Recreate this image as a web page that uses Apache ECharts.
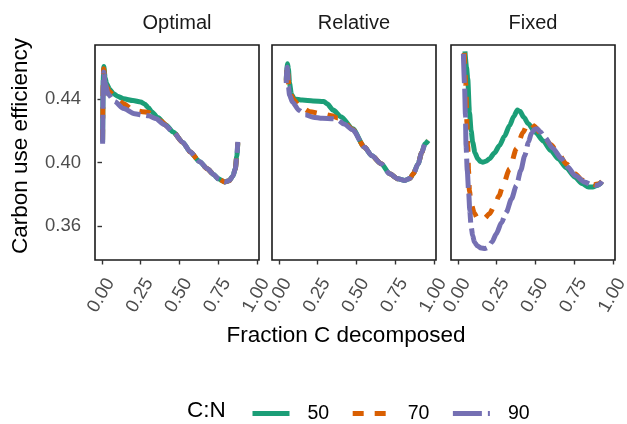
<!DOCTYPE html>
<html>
<head>
<meta charset="utf-8">
<script src="https://cdn.jsdelivr.net/npm/echarts@6/dist/echarts.min.js"></script>
<style>
html,body{margin:0;padding:0;background:#fff;}
#c{width:627px;height:424px;}
</style>
</head>
<body>
<div id="c"></div>
<script>
// ---- data ----
const panels = ["Optimal", "Relative", "Fixed"];
const cnLevels = ["50", "70", "90"];
const xTicks = [0, 0.25, 0.5, 0.75, 1.0];
const yTicks = [0.36, 0.40, 0.44];

const optimal50 = [[0.004,0.413],[0.008,0.452],[0.012,0.4605],[0.02,0.4535],[0.03,0.4496],[0.05,0.4460],[0.075,0.4433],[0.10,0.4418],[0.14,0.4401],[0.20,0.4390],[0.25,0.4381],[0.275,0.4368],[0.30,0.4345],[0.32,0.4320],[0.36,0.4283],[0.41,0.4238],[0.46,0.4192],[0.52,0.4128],[0.57,0.4066],[0.63,0.4005],[0.68,0.3960],[0.72,0.3925],[0.75,0.3898],[0.79,0.3878],[0.82,0.3885],[0.845,0.3915],[0.86,0.3960],[0.87,0.4040],[0.876,0.4120]];
const optimal70 = [[0.004,0.414],[0.008,0.452],[0.011,0.459],[0.02,0.452],[0.03,0.4475],[0.05,0.4445],[0.08,0.4420],[0.14,0.4370],[0.20,0.4330],[0.26,0.4320],[0.30,0.4315],[0.34,0.4290],[0.38,0.4262],[0.42,0.4230],[0.46,0.4192],[0.52,0.4128],[0.57,0.4066],[0.63,0.4005],[0.68,0.3960],[0.72,0.3925],[0.75,0.3898],[0.79,0.3878],[0.82,0.3885],[0.845,0.3915],[0.86,0.3960],[0.87,0.4040],[0.876,0.4125]];
const optimal90 = [[0.004,0.4118],[0.008,0.448],[0.011,0.4570],[0.02,0.4500],[0.04,0.4430],[0.08,0.4385],[0.14,0.4340],[0.21,0.4307],[0.27,0.4298],[0.30,0.4294],[0.35,0.4275],[0.40,0.4240],[0.46,0.4192],[0.52,0.4128],[0.57,0.4066],[0.63,0.4005],[0.68,0.3960],[0.72,0.3925],[0.75,0.3898],[0.79,0.3878],[0.82,0.3885],[0.845,0.3915],[0.86,0.3960],[0.87,0.4040],[0.876,0.4130]];

const relative50 = [[0.047,0.452],[0.051,0.459],[0.055,0.4622],[0.061,0.4590],[0.068,0.4500],[0.08,0.4430],[0.10,0.4400],[0.15,0.4393],[0.22,0.4388],[0.29,0.4384],[0.31,0.4370],[0.35,0.4330],[0.40,0.4288],[0.476,0.4212],[0.552,0.4096],[0.60,0.4042],[0.66,0.3992],[0.714,0.3929],[0.768,0.3897],[0.812,0.3887],[0.845,0.3900],[0.866,0.3929],[0.898,0.3992],[0.92,0.4060],[0.942,0.4118],[0.963,0.4139]];
const relative70 = [[0.047,0.451],[0.051,0.4585],[0.054,0.4605],[0.058,0.4560],[0.064,0.4480],[0.075,0.4430],[0.095,0.4395],[0.13,0.4355],[0.20,0.4320],[0.27,0.4308],[0.34,0.4295],[0.38,0.4280],[0.42,0.4252],[0.476,0.4208],[0.552,0.4096],[0.60,0.4042],[0.66,0.3992],[0.714,0.3929],[0.768,0.3897],[0.812,0.3887],[0.845,0.3900],[0.866,0.3929],[0.898,0.3992],[0.92,0.4060],[0.942,0.4118],[0.963,0.4140]];
const relative90 = [[0.047,0.450],[0.050,0.4580],[0.053,0.4600],[0.057,0.4560],[0.061,0.4480],[0.068,0.4425],[0.087,0.4380],[0.13,0.4328],[0.17,0.4300],[0.22,0.4285],[0.28,0.4278],[0.35,0.4275],[0.38,0.4268],[0.42,0.4242],[0.476,0.4205],[0.552,0.4096],[0.60,0.4042],[0.66,0.3992],[0.714,0.3929],[0.768,0.3897],[0.812,0.3887],[0.845,0.3900],[0.866,0.3929],[0.898,0.3992],[0.92,0.4060],[0.942,0.4118],[0.963,0.4141]];

const fixed50 = [[0.045,0.4700],[0.055,0.4600],[0.063,0.4527],[0.074,0.4317],[0.085,0.4200],[0.095,0.4128],[0.11,0.4060],[0.128,0.4023],[0.145,0.4007],[0.16,0.4002],[0.18,0.4008],[0.203,0.4023],[0.235,0.4060],[0.268,0.4107],[0.30,0.4165],[0.333,0.4233],[0.36,0.4290],[0.383,0.4330],[0.40,0.4322],[0.425,0.4285],[0.453,0.4244],[0.50,0.4190],[0.55,0.4135],[0.60,0.4075],[0.647,0.4023],[0.70,0.3965],[0.755,0.3907],[0.80,0.3868],[0.842,0.3846],[0.87,0.3846],[0.896,0.3855],[0.929,0.3878]];
const fixed70 = [[0.041,0.4690],[0.050,0.4500],[0.058,0.4250],[0.063,0.4107],[0.068,0.3950],[0.074,0.3820],[0.085,0.3740],[0.106,0.3680],[0.125,0.3650],[0.145,0.3640],[0.17,0.3648],[0.203,0.3677],[0.236,0.3729],[0.265,0.3790],[0.29,0.3855],[0.333,0.3960],[0.377,0.4086],[0.42,0.4191],[0.445,0.4235],[0.465,0.4252],[0.49,0.4230],[0.539,0.4180],[0.60,0.4112],[0.647,0.4055],[0.70,0.3990],[0.755,0.3929],[0.80,0.3890],[0.842,0.3866],[0.88,0.3860],[0.91,0.3866],[0.929,0.3880]];
const fixed90 = [[0.035,0.4685],[0.042,0.4500],[0.048,0.4300],[0.052,0.4107],[0.060,0.3950],[0.069,0.3813],[0.076,0.3700],[0.084,0.3603],[0.095,0.3540],[0.106,0.3498],[0.125,0.3475],[0.149,0.3462],[0.175,0.3458],[0.193,0.3464],[0.22,0.3500],[0.247,0.3551],[0.28,0.3620],[0.312,0.3687],[0.345,0.3770],[0.377,0.3855],[0.405,0.3950],[0.431,0.4044],[0.455,0.4130],[0.474,0.4185],[0.495,0.4210],[0.51,0.4212],[0.53,0.4195],[0.56,0.4159],[0.61,0.4092],[0.669,0.4023],[0.71,0.3970],[0.755,0.3918],[0.82,0.3876],[0.855,0.3862],[0.885,0.3855],[0.91,0.3860],[0.929,0.3882]];

const panelData = [
  [optimal50, optimal70, optimal90],
  [relative50, relative70, relative90],
  [fixed50, fixed70, fixed90]
];

// ---- styling ----
const colors = ["#1B9E77", "#D95F02", "#7570B3"];
const dashes = ["solid", [11, 11], [29, 6]];
const FONT = "Liberation Sans, Arial, Helvetica, sans-serif";
const gridLefts = [95, 272, 451];
const gridW = 164;
const gridTop = 45, gridH = 215;
const LW = 5;

const grids = [], xAxes = [], yAxes = [], series = [], graphics = [];
panels.forEach((p, i) => {
  grids.push({left: gridLefts[i], top: gridTop, width: gridW, height: gridH,
    show: true, borderColor: "#1a1a1a", borderWidth: 1.6, backgroundColor: "#fff",
    containLabel: false, outerBoundsMode: "none"});
  xAxes.push({type: "value", gridIndex: i, min: -0.045, max: 1.013,
    splitLine: {show: false}, axisLine: {show: false},
    axisTick: {show: true, length: 4.5, customValues: xTicks, lineStyle: {color: "#333", width: 1.4}},
    axisLabel: {show: true, customValues: xTicks, rotate: 60, margin: 15, verticalAlign: "top",
      formatter: v => v.toFixed(2), color: "#4D4D4D", fontSize: 18.5, fontFamily: FONT}});
  yAxes.push({type: "value", gridIndex: i, min: 0.3386, max: 0.474,
    splitLine: {show: false}, axisLine: {show: false},
    axisTick: {show: i === 0, length: 4.5, customValues: yTicks, lineStyle: {color: "#333", width: 1.4}},
    axisLabel: {show: i === 0, customValues: yTicks, margin: 14,
      formatter: v => v.toFixed(2), color: "#4D4D4D", fontSize: 18.5, fontFamily: FONT}});
  panelData[i].forEach((d, k) => {
    series.push({type: "line", name: cnLevels[k], xAxisIndex: i, yAxisIndex: i, data: d,
      symbol: "none", smooth: 0.25, smoothMonotone: "x", z: 2 + k,
      lineStyle: {color: colors[k], width: LW, type: dashes[k], cap: "butt", join: "round"},
      itemStyle: {color: colors[k]}, emphasis: {disabled: true}});
  });
  graphics.push({type: "text", x: gridLefts[i] + gridW / 2, y: 23,
    style: {text: p, fill: "#1A1A1A", font: "20px " + FONT, textAlign: "center", textVerticalAlign: "middle"}});
});

graphics.push({type: "text", x: 21, y: 146, rotation: Math.PI / 2,
  style: {text: "Carbon use efficiency", fill: "#000", font: "22.5px " + FONT, textAlign: "center", textVerticalAlign: "middle"}});
graphics.push({type: "text", x: 346, y: 336,
  style: {text: "Fraction C decomposed", fill: "#000", font: "22.5px " + FONT, textAlign: "center", textVerticalAlign: "middle"}});
graphics.push({type: "text", x: 187, y: 411,
  style: {text: "C:N", fill: "#000", font: "22.5px " + FONT, textAlign: "left", textVerticalAlign: "middle"}});

const chart = echarts.init(document.getElementById("c"), null, {renderer: "canvas"});
chart.setOption({
  backgroundColor: "#fff",
  animation: false,
  grid: grids, xAxis: xAxes, yAxis: yAxes, series: series,
  legend: {data: cnLevels, left: 250, top: 403.5, padding: 0, itemWidth: 37, itemHeight: 14, itemGap: 21,
    selectedMode: false,
    itemStyle: {opacity: 0},
    lineStyle: {width: LW, cap: "butt"},
    textStyle: {fontSize: 19.5, fontFamily: FONT, color: "#000", padding: [0, 0, 0, 13]}},
  graphic: graphics
});
</script>
</body>
</html>
